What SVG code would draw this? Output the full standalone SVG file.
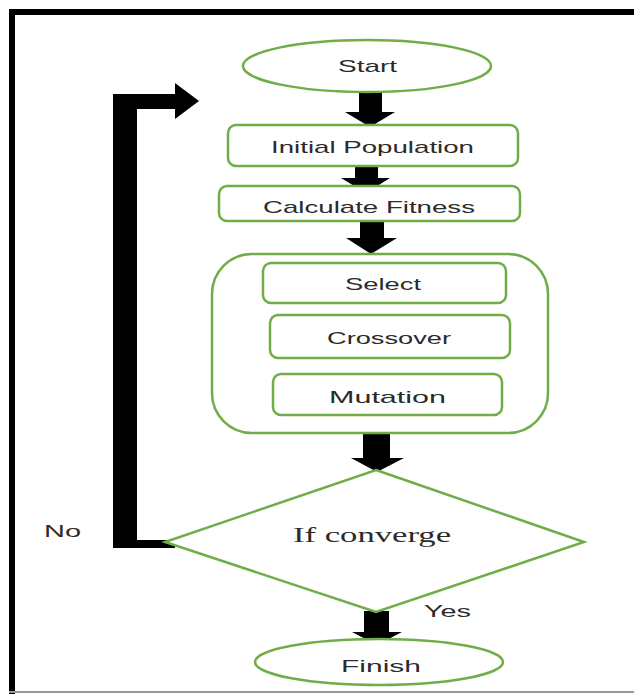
<svg xmlns="http://www.w3.org/2000/svg" width="634" height="694" viewBox="0 0 634 694">
<style>
.n{fill:#fff;stroke:#70AD47;stroke-width:2.5}
.t{font-family:"Liberation Sans",Arial,sans-serif;font-size:17px;fill:#2b2b2b}
.s{font-family:"Liberation Serif","Times New Roman",serif;font-size:21px;fill:#2b2b2b}
.c{fill:#000}
</style>
<rect x="0" y="0" width="634" height="694" fill="#fff"/>
<g id="frame">
<rect x="9" y="9" width="625" height="6" fill="#000"/>
<rect x="9" y="9" width="6" height="685" fill="#000"/>
<rect x="9" y="691" width="625" height="2" fill="#999"/>
</g>
<g id="connectors">
<polygon class="c" points="359,91 382,91 382,112 395,112 370,127 345,112 359,112"/>
<polygon class="c" points="355,166 378,166 378,178 390,178 366,193 341,178 355,178"/>
<polygon class="c" points="360,221 384,221 384,238 397,238 371,254 346,238 360,238"/>
<polygon class="c" points="363,433 390,433 390,458 404,458 377,472 351,458 363,458"/>
<polygon class="c" points="364,611 389,611 389,632 402,632 377,645 352,632 364,632"/>
<polygon class="c" points="113,548 113,94 175,94 175,83 199,101 175,119 175,109 137,109 137,540 175,540 175,548"/>
</g>
<g id="start">
<ellipse class="n" cx="367" cy="66" rx="124" ry="26"/>
<text class="t" x="338" y="72" textLength="59" lengthAdjust="spacingAndGlyphs">Start</text>
</g>
<g id="initial-population">
<rect class="n" x="228" y="125" width="290" height="41" rx="8"/>
<text class="t" x="271" y="153" font-size="18" textLength="203" lengthAdjust="spacingAndGlyphs">Initial Population</text>
</g>
<g id="calculate-fitness">
<rect class="n" x="219" y="186" width="301" height="35" rx="8"/>
<text class="t" x="263" y="213" textLength="212" lengthAdjust="spacingAndGlyphs">Calculate Fitness</text>
</g>
<g id="operators">
<rect class="n" x="212" y="254" width="336" height="179" rx="40"/>
</g>
<g id="select">
<rect class="n" x="263" y="263" width="243" height="40" rx="8"/>
<text class="t" x="345" y="290" textLength="76" lengthAdjust="spacingAndGlyphs">Select</text>
</g>
<g id="crossover">
<rect class="n" x="270" y="315" width="240" height="43" rx="8"/>
<text class="t" x="327" y="344" textLength="124" lengthAdjust="spacingAndGlyphs">Crossover</text>
</g>
<g id="mutation">
<rect class="n" x="273" y="374" width="229" height="41" rx="8"/>
<text class="t" x="329" y="403" textLength="117" lengthAdjust="spacingAndGlyphs">Mutation</text>
</g>
<g id="if-converge">
<polygon class="n" points="376,470 584,542 376,612 165,542"/>
<text class="s" x="293" y="542" textLength="158" lengthAdjust="spacingAndGlyphs">If converge</text>
</g>
<g id="labels">
<text class="t" x="44" y="537" textLength="37" lengthAdjust="spacingAndGlyphs">No</text>
<text class="t" x="424" y="617" textLength="47" lengthAdjust="spacingAndGlyphs">Yes</text>
</g>
<g id="finish">
<ellipse class="n" cx="379" cy="662" rx="124" ry="23"/>
<text class="t" x="341" y="672" font-size="20" textLength="80" lengthAdjust="spacingAndGlyphs">Finish</text>
</g>
</svg>
